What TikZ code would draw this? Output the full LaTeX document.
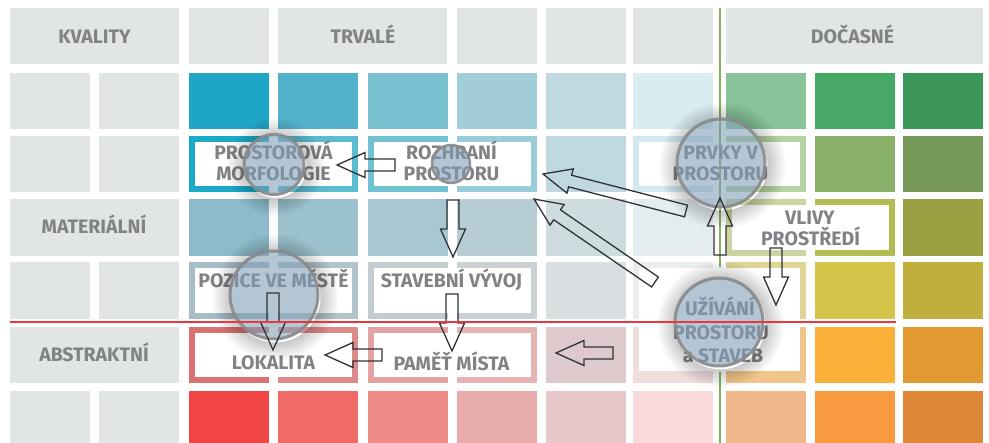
\documentclass[tikz,border=0pt]{standalone}
\usepackage{fontspec}
\setmainfont{Fira Sans}
\usetikzlibrary{calc}
\definecolor{hdr}{HTML}{E2E5E6}
\definecolor{txt}{HTML}{808285}
\definecolor{arrowc}{HTML}{2F3236}
\definecolor{circfill}{HTML}{7E9CB5}
\definecolor{circline}{HTML}{8A8A8A}
\definecolor{greenline}{HTML}{82B25E}
\definecolor{redline}{HTML}{E8383D}
\tikzset{
  lbl/.style={font=\bfseries\fontsize{19.5}{21}\selectfont, text=txt, inner sep=0pt, anchor=base},
  whitebox/.style={fill=white, draw=none, inner sep=0pt},
  blockarrow/.style={draw=arrowc, line width=1.3pt, line join=miter},
  ring/.style={fill=circfill, fill opacity=0.58, draw=circline, draw opacity=0.9, line width=3pt},
}
\newcommand\cell[4]{\fill[#4] (#1,#2) rectangle ++(80,#3);}
\newcommand\barrow[2]{%
  \coordinate (bab) at ($(#2)!28pt!(#1)$);
  \draw[blockarrow] ($(#1)!6pt!90:(#2)$) -- ($(bab)!6pt!90:(#2)$) -- ($(bab)!12.5pt!90:(#2)$) -- (#2) -- ($(bab)!12.5pt!-90:(#2)$) -- ($(bab)!6pt!-90:(#2)$) -- ($(#1)!6pt!-90:(#2)$) -- cycle;}
\newcommand\circshadow[2]{%
  \foreach \k in {2,4,...,18} {\fill[black, opacity=0.022, even odd rule] ($(#1)+(1.5,2.5)$) circle[radius={(#2+\k)*1pt}] ($(#1)+(1.5,2.5)$) circle[radius={#2*1pt}];}}
\begin{document}
\begin{tikzpicture}[x=1pt,y=-1pt]
\useasboundingbox (0,0) rectangle (989,443);
\clip (0,0) rectangle (989,443);
\fill[white] (0,0) rectangle (989,443);
% header row
\fill[hdr] (10,8) rectangle (179,64);
\cell{189}{8}{56}{hdr}
\fill[hdr] (278,8) rectangle (447,64);
\cell{457}{8}{56}{hdr}
\cell{546}{8}{56}{hdr}
\cell{633}{8}{56}{hdr}
\fill[hdr] (726,8) rectangle (983,64);
% left gray cells
\foreach \y/\h in {73/56,136/56,262/57,391/56} {\cell{10}{\y}{\h}{hdr}\cell{99}{\y}{\h}{hdr}}
\fill[hdr] (10,199) rectangle (179,256);
\fill[hdr] (10,327) rectangle (179,383);
% colour rows
\foreach \y/\h/\ca/\cb/\cc/\cd/\ce/\cf/\cg/\ch/\ci in {
  73/56/1FA6C6/52B2CC/79C1D0/A0CDD9/C0D8E0/D8ECF2/88C39A/48A865/3B9659,
  136/56/1BA9C8/5BBBD0/70C1D1/97CCD8/C0D8DF/D2E9EF/B5D3A0/88B068/76995A,
  199/57/8DBBC9/9AC1CC/A8C7D0/B6CDD4/CEDBDF/E3ECEF/C9D4A0/B3BC52/9BA043,
  262/57/A6BCC6/B2C4CB/C3CCD0/C9D1D4/D9DFE0/EAEDEE/DCD596/D4C44A/C0AE3D,
  327/56/D87272/DC8A8A/E3A3A3/E6B3B3/DECACC/F0DDDE/F1C58A/FAB038/E09A31,
  391/56/F04545/F06A68/EF8C88/E8ABAB/E6C8CA/FADADA/F0B68C/F89A40/DC8836} {
  \definecolor{ka}{HTML}{\ca}\definecolor{kb}{HTML}{\cb}\definecolor{kc}{HTML}{\cc}
  \definecolor{kd}{HTML}{\cd}\definecolor{ke}{HTML}{\ce}\definecolor{kf}{HTML}{\cf}
  \definecolor{kg}{HTML}{\cg}\definecolor{kh}{HTML}{\ch}\definecolor{ki}{HTML}{\ci}
  \cell{189}{\y}{\h}{ka}\cell{278}{\y}{\h}{kb}\cell{368}{\y}{\h}{kc}
  \cell{457}{\y}{\h}{kd}\cell{546}{\y}{\h}{ke}\cell{633}{\y}{\h}{kf}
  \cell{726}{\y}{\h}{kg}\cell{815}{\y}{\h}{kh}\cell{903}{\y}{\h}{ki}
}
% white boxes
\node[whitebox, minimum width=157pt, minimum height=44pt] (b-morf) at (273.5,164) {};
\node[whitebox, minimum width=157pt, minimum height=44pt] (b-rozh) at (452.5,164) {};
\node[whitebox, minimum width=161pt, minimum height=44pt] (b-prvky) at (719.5,164) {};
\node[whitebox, minimum width=157pt, minimum height=45pt] (b-vlivy) at (810.5,227.5) {};
\node[whitebox, minimum width=157pt, minimum height=45pt] (b-pozice) at (273.5,290.5) {};
\node[whitebox, minimum width=157pt, minimum height=45pt] (b-stav) at (452.5,290.5) {};
\node[whitebox, minimum width=161pt, minimum height=103pt] (b-uziv) at (719.5,319.5) {};
\node[whitebox, minimum width=157pt, minimum height=44pt] (b-lok) at (273.5,355) {};
\node[whitebox, minimum width=157pt, minimum height=44pt] (b-pam) at (452.5,355) {};
% green line
\coordinate (g1) at (720,8); \coordinate (g2) at (720,267);
\coordinate (g3) at (720,372); \coordinate (g4) at (720,443);
\draw[greenline, line width=1.6pt] (g1) -- (g2) (g3) -- (g4);
% texts
\node[lbl] (t-kval) at (94.5,44) {KVALITY};
\node[lbl] (t-trv) at (363,43.5) {TRVALÉ};
\node[lbl] (t-doc) at (852.5,43.5) {DOČASNÉ};
\node[lbl] (t-mat) at (94,234) {MATERIÁLNÍ};
\node[lbl] (t-abs) at (94,362) {ABSTRAKTNÍ};
\node[lbl] (t-morf1) at (273.5,160) {PROSTOROVÁ};
\node[lbl] (t-morf2) at (273.5,181) {MORFOLOGIE};
\node[lbl] (t-rozh1) at (451.5,160) {ROZHRANÍ};
\node[lbl] (t-rozh2) at (451.5,181) {PROSTORU};
\node[lbl] (t-prvky1) at (720.5,160) {PRVKY V};
\node[lbl] (t-prvky2) at (720.5,181) {PROSTORU};
\node[lbl] (t-vliv1) at (810,225) {VLIVY};
\node[lbl] (t-vliv2) at (810.5,245.5) {PROSTŘEDÍ};
\node[lbl] (t-poz) at (273.5,288) {POZICE VE MĚSTĚ};
\node[lbl] (t-stav) at (451.5,288) {STAVEBNÍ VÝVOJ};
\node[lbl] (t-uz1) at (720,316) {UŽÍVÁNÍ};
\node[lbl] (t-uz2) at (721,340) {PROSTORU};
\node[lbl] (t-uz3) at (723,363) {a STAVEB};
\node[lbl] (t-lok) at (273.5,370) {LOKALITA};
\node[lbl] (t-pam) at (451.5,370.5) {PAMĚŤ MÍSTA};
% circles
\coordinate (c-morf) at (274,164.5);
\coordinate (c-rozh) at (451,164);
\coordinate (c-prvky) at (721,163);
\coordinate (c-poz) at (274,295);
\coordinate (c-uz) at (719,322);
\circshadow{c-morf}{31}
\circshadow{c-prvky}{45}
\circshadow{c-poz}{45}
\circshadow{c-uz}{45}
\draw[ring] (c-morf) circle[radius=30pt];
\draw[ring, line width=2.5pt] (c-rozh) circle[radius=19pt];
\draw[ring] (c-prvky) circle[radius=44pt];
\draw[ring] (c-poz) circle[radius=44pt];
\draw[ring] (c-uz) circle[radius=44pt];
% arrows
\coordinate (a1s) at (395,165); \coordinate (a1e) at (337,165);
\coordinate (a2s) at (453,200); \coordinate (a2e) at (453,257);
\coordinate (a3s) at (686,211); \coordinate (a3e) at (543,174);
\coordinate (a4s) at (655,282); \coordinate (a4e) at (534,199);
\coordinate (a5s) at (720,255); \coordinate (a5e) at (720,198);
\coordinate (a6s) at (776,248); \coordinate (a6e) at (776,305);
\coordinate (a7s) at (273,293); \coordinate (a7e) at (273,350);
\coordinate (a8s) at (382,355); \coordinate (a8e) at (325,355);
\coordinate (a9s) at (452,294); \coordinate (a9e) at (452,351);
\coordinate (a10s) at (613,353); \coordinate (a10e) at (556,353);
\barrow{a1s}{a1e}
\barrow{a2s}{a2e}
\barrow{a3s}{a3e}
\barrow{a4s}{a4e}
\barrow{a5s}{a5e}
\barrow{a6s}{a6e}
\barrow{a7s}{a7e}
\barrow{a8s}{a8e}
\barrow{a9s}{a9e}
\barrow{a10s}{a10e}
% red line
\coordinate (r1) at (10,322); \coordinate (r2) at (896,322);
\draw[redline, line width=1.5pt] (r1) -- (r2);
\end{tikzpicture}
\end{document}
